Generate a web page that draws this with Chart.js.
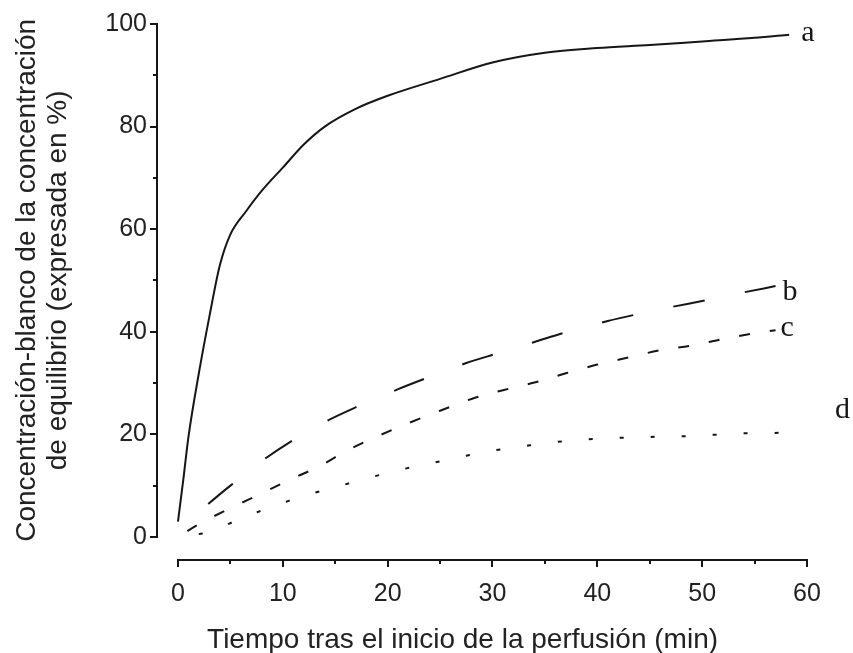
<!DOCTYPE html>
<html>
<head>
<meta charset="utf-8">
<script src="https://cdn.jsdelivr.net/npm/chart.js@4.4.0/dist/chart.umd.min.js"></script>
<style>
  html,body{margin:0;padding:0;background:#fff}
</style>
</head>
<body>
<canvas id="chart" width="853" height="653"></canvas>
<script>
// ── Data ──
var timeA=[0,0.5,1,2,3,4,5,6.5,8,10,12,14,17,20,25,30,35,40,45,50,55,58.3];
var concA=[3,11,19.5,32,43,53,59,63.5,67.5,72,76.5,80,83.5,86,89.3,92.5,94.4,95.3,95.9,96.6,97.3,97.9];
var timeB=[0,3,5,8,11,14,17,21,24,27.5,30.5,34,37,41,44,47,50,54,57];
var concB=[1,6.6,10,14.8,18.9,22.4,25.3,28.8,31.2,33.9,35.8,38,39.9,42.1,43.5,44.8,46,47.7,48.9];
var timeC=[0,2,5,8,10.5,13.5,16,19,22,25,28,31,34,37,40,43,46,49,52,55,57];
var concC=[0,2.5,5.6,8.5,11,13.8,16.7,19.6,22.2,24.6,26.9,28.6,30.1,31.9,33.6,35,36.4,37.3,38.6,39.7,40.3];
var timeD=[0,3,6,9,12,15,18,21,24,27,30,33,36,39,42,45,48,51,54,58];
var concD=[0,1,3.6,5.9,8,9.7,11.4,13,14.3,15.6,16.8,17.7,18.5,19,19.3,19.5,19.6,19.9,20.2,20.3];
var curveNames=['a','b','c','d'];
var xTicks=[0,10,20,30,40,50,60];
var xMinor=[5,15,25,35,45,55];
var yTicks=[0,20,40,60,80,100];
var yMinor=[10,30,50,70,90];

function pts(xs,ys){ return xs.map(function(x,i){return {x:x,y:ys[i]};}); }

// curve letter placement, px offset from the last point of each curve
var labelOffsets=[[12,6],[7,14],[5,6],[49,-15]];

var ink='#161616';
var sans='"Liberation Sans", Arial, sans-serif';

var axesPlugin={
  id:'axesPlugin',
  afterDraw:function(chart){
    var ctx=chart.ctx, xs=chart.scales.x, ys=chart.scales.y, area=chart.chartArea;
    var bx=area.left, by=area.bottom;
    ctx.save();
    ctx.strokeStyle=ink; ctx.lineWidth=2;
    ctx.beginPath();
    ctx.moveTo(bx,ys.getPixelForValue(yTicks[yTicks.length-1])-1);
    ctx.lineTo(bx,ys.getPixelForValue(yTicks[0])+1);
    ctx.moveTo(xs.getPixelForValue(xTicks[0])-1,by);
    ctx.lineTo(xs.getPixelForValue(xTicks[xTicks.length-1])+1,by);
    xMinor.forEach(function(v){var p=Math.round(xs.getPixelForValue(v));ctx.moveTo(p,by);ctx.lineTo(p,by+4);});
    yMinor.forEach(function(v){var p=Math.round(ys.getPixelForValue(v));ctx.moveTo(bx,p);ctx.lineTo(bx-4,p);});
    ctx.stroke();
    // curve letters
    ctx.fillStyle=ink;
    ctx.font='30px "Liberation Serif", serif';
    ctx.textAlign='left'; ctx.textBaseline='alphabetic';
    chart.data.datasets.forEach(function(ds,i){
      var last=ds.data[ds.data.length-1];
      var px=xs.getPixelForValue(last.x)+labelOffsets[i][0];
      var py=ys.getPixelForValue(last.y)+labelOffsets[i][1];
      ctx.fillText(curveNames[i],px,py);
    });
    ctx.restore();
  }
};

function series(name,xs,ys,dash,offset){
  return {label:name,data:pts(xs,ys),borderColor:ink,borderWidth:2,borderDash:dash,borderDashOffset:offset||0,
    pointRadius:0,fill:false,cubicInterpolationMode:'monotone',borderCapStyle:'butt'};
}

new Chart(document.getElementById('chart'),{
  type:'line',
  data:{datasets:[
    series('a',timeA,concA,[]),
    series('b',timeB,concB,[32,41],32),
    series('c',timeC,concC,[11,20],20),
    series('d',timeD,concD,[4,27],10)
  ]},
  options:{
    responsive:false,animation:false,
    layout:{padding:{top:24,right:46,left:0,bottom:0}},
    plugins:{legend:{display:false},tooltip:{enabled:false}},
    scales:{
      x:{type:'linear',min:-2,max:60,
        afterBuildTicks:function(s){s.ticks=xTicks.map(function(v){return {value:v};});},
        afterFit:function(s){s.height=93;},
        border:{display:false},
        grid:{drawOnChartArea:false,drawTicks:true,tickLength:7,color:ink,lineWidth:2},
        ticks:{color:'#222',font:{family:sans,size:25},padding:12,maxRotation:0,autoSkip:false},
        // trailing spaces nudge the centred title left, as in the figure
        title:{display:true,text:'Tiempo tras el inicio de la perfusión (min)     ',color:'#222',
          font:{family:sans,size:28},padding:{top:0,bottom:-4}}
      },
      y:{type:'linear',min:-4.5,max:100,
        afterBuildTicks:function(s){s.ticks=yTicks.map(function(v){return {value:v};});},
        afterFit:function(s){s.width=157;},
        border:{display:false},
        grid:{drawOnChartArea:false,drawTicks:true,tickLength:7,color:ink,lineWidth:2},
        ticks:{color:'#222',font:{family:sans,size:25},padding:3},
        title:{display:true,text:['   Concentración-blanco de la concentración','   de equilibrio (expresada en %)'],color:'#222',
          font:{family:sans,size:28,lineHeight:1.1},padding:{top:12,bottom:0}}
      }
    }
  },
  plugins:[axesPlugin]
});
</script>
</body>
</html>
